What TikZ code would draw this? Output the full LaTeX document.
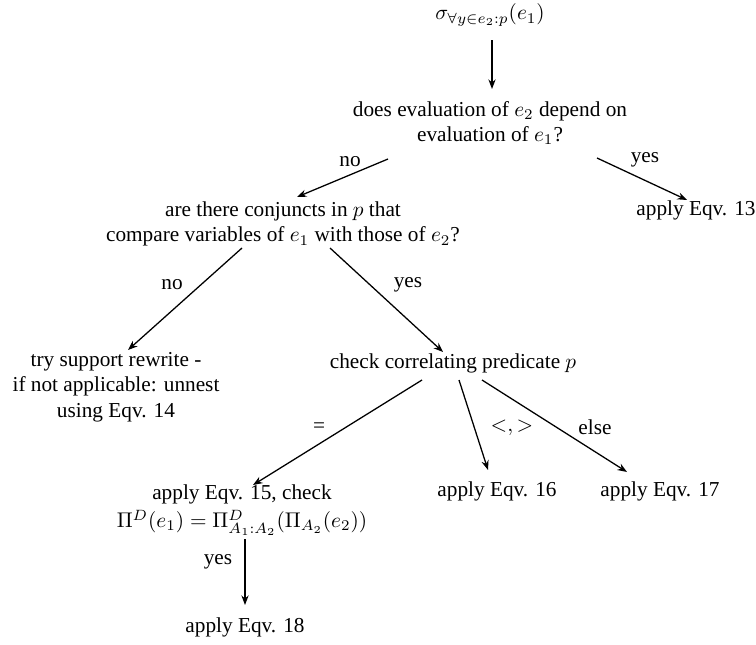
\documentclass[tikz,border=0pt]{standalone}
\usepackage{amsmath,amssymb}
\usepackage{fontspec}
\setmainfont{Liberation Serif}
\usetikzlibrary{arrows.meta}

\begin{document}
\begin{tikzpicture}[x=0.47pt,y=-0.47pt,
    box/.style={align=center, inner sep=0pt},
    lbl/.style={inner sep=0pt},
    arr/.style={semithick, -{Stealth[length=4.5pt,width=3.4pt]}}]
  \useasboundingbox (0,0) rectangle (756,644);
  % decisions and results
  \node[box] (sel) at (490,15) {$\sigma_{\forall y\in e_2:p}(e_1)$};
  \node[box] (dep) at (490,123) {does evaluation of $e_2$ depend on\\evaluation of $e_1$?};
  \node[box] (eq13) at (696,210) {apply Eqv. 13};
  \node[box] (conj) at (283,224) {are there conjuncts in $p$ that\\compare variables of $e_1$ with those of $e_2$?};
  \node[box] (supp) at (116,387) {try support rewrite -\\if not applicable: unnest\\using Eqv. 14};
  \node[box] (corr) at (453,363) {check correlating predicate $p$};
  \node[box] (eq15) at (242,510) {apply Eqv. 15, check\\[1.5pt]$\Pi^D(e_1)=\Pi^D_{A_1:A_2}(\Pi_{A_2}(e_2))$};
  \node[box] (eq16) at (497,491) {apply Eqv. 16};
  \node[box] (eq17) at (660,491) {apply Eqv. 17};
  \node[box] (eq18) at (245,627) {apply Eqv. 18};
  % edge labels
  \node[lbl] (no1) at (350,162) {no};
  \node[lbl] (yes1) at (645,160) {yes};
  \node[lbl] (no2) at (172,285) {no};
  \node[lbl] (yes2) at (408,285) {yes};
  \node[lbl] (eqs) at (319,428) {=};
  \node[lbl] (ltgt) at (512,428) {$<,>$};
  \node[lbl] (else) at (595,427) {else};
  \node[lbl] (yes3) at (218,562) {yes};
  % connectors
  \draw[arr] ([shift={(2,25)}]sel.center) -- ([shift={(2,-34)}]dep.center);
  \draw[arr] ([shift={(-102,36)}]dep.center) -- ([shift={(14,-27)}]conj.center);
  \draw[arr] ([shift={(107,35)}]dep.center) -- ([shift={(-9,-10)}]eq13.center);
  \draw[arr] ([shift={(-41,24)}]conj.center) -- ([shift={(12,-37)}]supp.center);
  \draw[arr] ([shift={(47,24)}]conj.center) -- ([shift={(-10,-11)}]corr.center);
  \draw[arr] ([shift={(-31,17)}]corr.center) -- ([shift={(11,-25)}]eq15.center);
  \draw[arr] ([shift={(6,17)}]corr.center) -- ([shift={(-9,-21)}]eq16.center);
  \draw[arr] ([shift={(29,17)}]corr.center) -- ([shift={(-33,-19)}]eq17.center);
  \draw[arr] ([shift={(3,29)}]eq15.center) -- ([shift={(0,-22)}]eq18.center);
\end{tikzpicture}
\end{document}
